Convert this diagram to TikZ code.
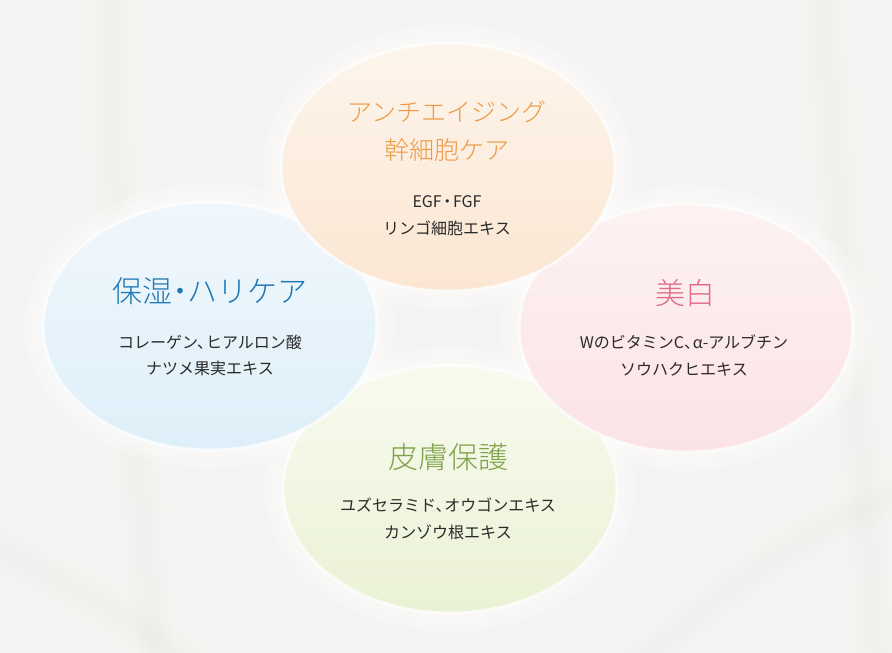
\documentclass[tikz,border=0pt]{standalone}
\usepackage{fontspec}
\setmainfont{Noto Sans CJK JP}
\newfontfamily\bodyfont{Noto Sans CJK JP}
\newfontfamily\titlefont{Noto Sans CJK JP}[UprightFont=* Light]
\usetikzlibrary{shapes.geometric}
\definecolor{bgc}{HTML}{F5F4F2}
\definecolor{otop}{HTML}{FDF5EC}
\definecolor{obot}{HTML}{FBE6D2}
\definecolor{btop}{HTML}{F0F7FC}
\definecolor{bbot}{HTML}{DEEFF9}
\definecolor{ptop}{HTML}{FDF2F2}
\definecolor{pbot}{HTML}{FBE3E5}
\definecolor{gtop}{HTML}{F8FAEF}
\definecolor{gbot}{HTML}{EAF2D5}
\definecolor{otxt}{HTML}{EC9A48}
\definecolor{btxt}{HTML}{1E78B6}
\definecolor{ptxt}{HTML}{E26A86}
\definecolor{gtxt}{HTML}{7FA24A}
\definecolor{body}{HTML}{2A2A2A}
\definecolor{fold}{HTML}{EDEBE7}
\newcommand\tten{、\kern-.45em}
\newcommand\nakaguro{\kern-.25em・\kern-.25em}
\tikzset{
  x=1pt,y=-1pt,
  bubble/.style={ellipse,minimum width=334pt,minimum height=248pt,inner sep=0pt},
  ttl/.style={font=\titlefont\fontsize{#1}{#1}\selectfont,inner sep=0pt},
  bdy/.style={font=\bodyfont\fontsize{16}{16}\selectfont,text=body,inner sep=0pt},
}
\begin{document}
\begin{tikzpicture}
\useasboundingbox (0,0) rectangle (892,653);
\fill[bgc] (0,0) rectangle (892,653);
% silky folds
\foreach \w in {70,60,50,40,30,20,10}{
  \draw[white,opacity=.09,line width=\w pt] (40,-40) .. controls (30,250) and (60,500) .. (0,700);
  \draw[white,opacity=.09,line width=\w pt] (200,-40) .. controls (220,150) and (250,300) .. (330,460);
  \draw[white,opacity=.09,line width=\w pt] (720,-40) .. controls (730,150) and (760,300) .. (780,460);
  \draw[white,opacity=.09,line width=\w pt] (-20,440) .. controls (150,540) and (250,600) .. (330,700);
  \draw[white,opacity=.09,line width=\w pt] (560,600) .. controls (700,500) and (800,440) .. (940,400);
  \draw[white,opacity=.09,line width=\w pt] (540,700) .. controls (700,600) and (800,560) .. (940,540);
}
\foreach \w in {40,30,20,10}{
  \draw[fold,opacity=.1,line width=\w pt] (110,-40) .. controls (110,200) and (130,400) .. (160,700);
  \draw[fold,opacity=.1,line width=\w pt] (820,-40) .. controls (830,150) and (850,300) .. (880,700);
  \draw[fold,opacity=.1,line width=\w pt] (-20,540) .. controls (100,600) and (160,630) .. (220,700);
  \draw[fold,opacity=.1,line width=\w pt] (600,700) .. controls (740,570) and (820,520) .. (940,480);
}
% glows
\foreach \c in {(448,167),(210,326),(686,328),(450,489)}{
  \foreach \w in {36,24,14}{
    \draw[white,opacity=.22,line width=\w pt] \c ellipse [x radius=167, y radius=124];
  }
}
% ellipses (green, blue, pink, orange)
\node[bubble,top color=gtop,bottom color=gbot] (green) at (450,489) {};
\draw[white,opacity=.7,line width=3pt] (green.center) ellipse [x radius=167, y radius=124];
\node[bubble,top color=btop,bottom color=bbot] (blue) at (210,326) {};
\draw[white,opacity=.7,line width=3pt] (blue.center) ellipse [x radius=167, y radius=124];
\node[bubble,top color=ptop,bottom color=pbot] (pink) at (686,328) {};
\draw[white,opacity=.7,line width=3pt] (pink.center) ellipse [x radius=167, y radius=124];
\node[bubble,top color=otop,bottom color=obot] (orange) at (448,167) {};
\draw[white,opacity=.7,line width=3pt] (orange.center) ellipse [x radius=167, y radius=124];
% texts: top
\node[ttl=25,text=otxt] (o1) at (447,112) {アンチエイジング};
\node[ttl=25,text=otxt] (o2) at (447,150) {幹細胞ケア};
\node[bdy] (o3) at (447,202) {EGF\kern-.15em・\kern-.15em FGF};
\node[bdy] (o4) at (447,228) {リンゴ細胞エキス};
% left
\node[ttl=30,text=btxt] (b1) at (210,291) {保湿\nakaguro ハリケア};
\node[bdy] (b2) at (210,342) {コレーゲン\tten ヒアルロン酸};
\node[bdy] (b3) at (210,368) {ナツメ果実エキス};
% right
\node[ttl=30,text=ptxt] (p1) at (685,293) {美白};
\node[bdy] (p2) at (684,342) {WのビタミンC\tten \textit{α}-アルブチン};
\node[bdy] (p3) at (684,369) {ソウハクヒエキス};
% bottom
\node[ttl=30,text=gtxt] (g1) at (448,457) {皮膚保護};
\node[bdy] (g2) at (448,505) {ユズセラミド\tten オウゴンエキス};
\node[bdy] (g3) at (448,532) {カンゾウ根エキス};
\end{tikzpicture}
\end{document}
